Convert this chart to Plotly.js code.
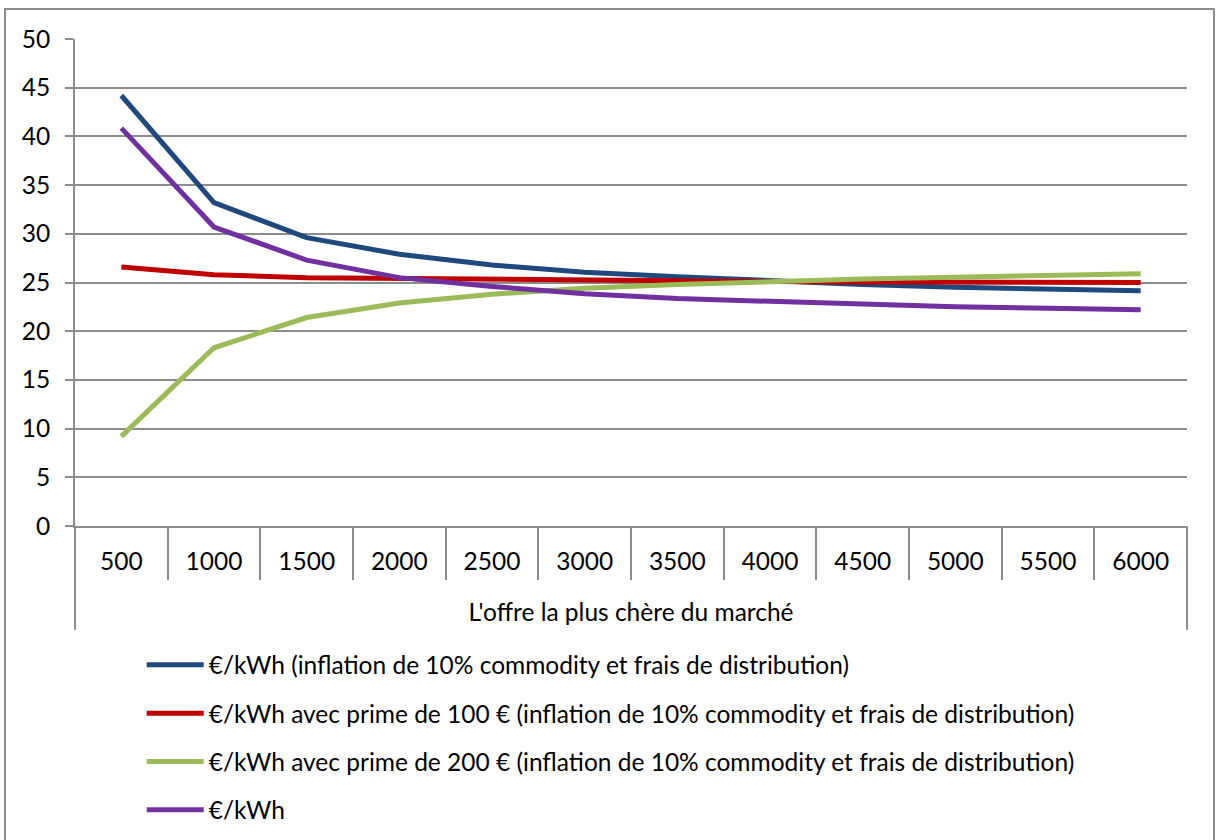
<!DOCTYPE html>
<html>
<head>
<meta charset="utf-8">
<script src="https://cdn.plot.ly/plotly-3.0.1.min.js"></script>
<style>
  html, body { margin: 0; padding: 0; background: #ffffff; }
  #wrap { position: relative; width: 1219px; height: 840px; overflow: hidden; background: #ffffff; }
  #frame { position: absolute; left: 4px; top: 8px; width: 1211px; height: 900px; border: 2px solid #8c8c8c; box-sizing: border-box; }
  #chart { position: absolute; left: 0; top: 0; width: 1219px; height: 840px; }
</style>
</head>
<body>
<div id="wrap">
  <div id="frame"></div>
  <div id="chart"></div>
</div>
<script>
// ---- data ----
const categories = ['500', '1000', '1500', '2000', '2500', '3000', '3500', '4000', '4500', '5000', '5500', '6000'];
const groupLabel = "L'offre la plus chère du marché";

const seriesNames = [
  '€/kWh (inflation de 10% commodity et frais de distribution)',
  '€/kWh avec prime de 100 € (inflation de 10% commodity et frais de distribution)',
  '€/kWh avec prime de 200 € (inflation de 10% commodity et frais de distribution)',
  '€/kWh'
];
const inflation10 = [44.2, 33.2, 29.6, 27.9, 26.8, 26.05, 25.6, 25.15, 24.8, 24.5, 24.3, 24.15];
const prime100 = [26.6, 25.8, 25.5, 25.4, 25.3, 25.2, 25.15, 25.1, 25.05, 25.0, 25.0, 25.0];
const prime200 = [9.2, 18.3, 21.4, 22.9, 23.8, 24.4, 24.8, 25.1, 25.35, 25.55, 25.75, 25.9];
const eurKwh = [40.85, 30.7, 27.3, 25.5, 24.6, 23.85, 23.35, 23.05, 22.75, 22.5, 22.35, 22.2];

const yTicks = [0, 5, 10, 15, 20, 25, 30, 35, 40, 45, 50];

// ---- styling ----
const colors = ['#1F497D', '#C00000', '#9BBB59', '#7030A0'];
const gridColor = '#8c8c8c';
const fontFamily = 'Lato, "Open Sans", sans-serif';
const fs = 24.5;
const keyLen = 57;

const allSeries = [inflation10, prime100, prime200, eurKwh];
const traces = allSeries.map((vals, i) => ({
  type: 'scatter',
  mode: 'lines',
  x: categories,
  y: vals,
  name: seriesNames[i],
  legendgroup: 'g' + i,
  line: { color: colors[i], width: 5, shape: 'linear' },
  hoverinfo: 'x+y+name'
}));

// boundaries between categories (for the separator ticks)
const boundaries = [];
for (let i = 0; i <= categories.length; i++) boundaries.push(i - 0.5);

const layout = {
  width: 1219,
  height: 840,
  margin: { l: 75, r: 32, t: 38.5, b: 314, autoexpand: false },
  paper_bgcolor: 'rgba(0,0,0,0)',
  plot_bgcolor: 'rgba(0,0,0,0)',
  font: { family: fontFamily, size: fs, color: '#000000' },
  showlegend: true,
  legend: {
    orientation: 'v',
    x: 0.06,
    xanchor: 'left',
    y: -0.239,
    yanchor: 'top',
    traceorder: 'grouped',
    tracegroupgap: 13.5,
    itemwidth: keyLen,
    font: { family: fontFamily, size: fs, color: '#000000' },
    bgcolor: 'rgba(0,0,0,0)'
  },
  xaxis: {
    type: 'category',
    categoryorder: 'array',
    categoryarray: categories,
    range: [-0.5, categories.length - 0.5],
    showgrid: false,
    zeroline: false,
    showline: false,
    ticks: '',
    ticklabelstandoff: 18,
    tickfont: { family: fontFamily, size: fs, color: '#000000' },
    title: {
      text: groupLabel,
      standoff: 30,
      font: { family: fontFamily, size: fs, color: '#000000' }
    },
    automargin: false,
    fixedrange: true
  },
  xaxis2: {
    overlaying: 'x',
    anchor: 'y',
    side: 'bottom',
    type: 'linear',
    range: [-0.5, categories.length - 0.5],
    tickmode: 'array',
    tickvals: boundaries,
    showticklabels: false,
    ticks: 'outside',
    ticklen: 52,
    tickwidth: 2,
    tickcolor: gridColor,
    showgrid: false,
    zeroline: false,
    showline: true,
    linecolor: gridColor,
    linewidth: 2,
    fixedrange: true
  },
  yaxis: {
    range: [0, 50],
    tickmode: 'array',
    tickvals: yTicks,
    ticktext: yTicks.map(String),
    showgrid: true,
    gridcolor: gridColor,
    gridwidth: 2,
    zeroline: false,
    showline: true,
    linecolor: gridColor,
    linewidth: 2,
    ticks: 'outside',
    ticklen: 8,
    tickwidth: 2,
    tickcolor: gridColor,
    ticklabelstandoff: 10,
    tickfont: { family: fontFamily, size: fs, color: '#000000' },
    automargin: false,
    fixedrange: true
  },
  shapes: [
    { type: 'line', xref: 'paper', yref: 'paper', x0: 0, x1: 0, y0: 0, y1: -0.213,
      line: { color: gridColor, width: 2 } },
    { type: 'line', xref: 'paper', yref: 'paper', x0: 1, x1: 1, y0: 0, y1: -0.213,
      line: { color: gridColor, width: 2 } }
  ]
};

// invisible helper trace so the boundary-tick axis (xaxis2) is rendered
traces.push({
  type: 'scatter', mode: 'lines', x: [boundaries[0], boundaries[boundaries.length - 1]], y: [null, null],
  xaxis: 'x2', yaxis: 'y', showlegend: false, hoverinfo: 'skip', line: { width: 0 }
});

// make the legend line samples span the whole key width (Excel style)
function widenLegendKeys(gd) {
  gd.querySelectorAll('.legend .traces .legendlines path').forEach(function (p) {
    p.setAttribute('d', 'M5,0h' + keyLen);
  });
}

Plotly.newPlot('chart', traces, layout, { displayModeBar: false }).then(function (gd) {
  widenLegendKeys(gd);
  gd.on('plotly_afterplot', function () { widenLegendKeys(gd); });
});
</script>
</body>
</html>
